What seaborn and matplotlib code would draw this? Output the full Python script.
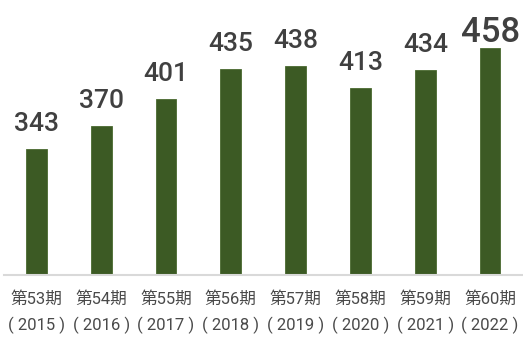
import matplotlib
matplotlib.use("Agg")
import matplotlib.pyplot as plt
import seaborn as sns
import pandas as pd

periods = ["第53期", "第54期", "第55期", "第56期", "第57期", "第58期", "第59期", "第60期"]
years = ["2015", "2016", "2017", "2018", "2019", "2020", "2021", "2022"]
values = [343, 370, 401, 435, 438, 413, 434, 458]

sns.set_theme(style="white")
plt.rcParams["font.family"] = ["Roboto", "Noto Sans CJK JP", "DejaVu Sans"]

labels = [f"{p}\n( {y} )" for p, y in zip(periods, years)]
df = pd.DataFrame({"label": labels, "value": values})

fig = plt.figure(figsize=(5.23, 3.37), dpi=100)
ax = fig.add_axes([4 / 523, (337 - 275) / 337, (522.5 - 4) / 523, 275 / 337])

sns.barplot(data=df, x="label", y="value", color="#3c5a24", width=0.32,
            saturation=1, ax=ax, edgecolor="#4a6a30", linewidth=0.6)

ax.set_xlim(-0.5, 7.5)
ax.set_ylim(200, 200 + 275 / 0.878)
ax.set_xlabel("")
ax.set_ylabel("")
ax.set_yticks([])
for s in ["top", "right", "left"]:
    ax.spines[s].set_visible(False)
ax.spines["bottom"].set_color("#d9d9d9")
ax.spines["bottom"].set_linewidth(1.5)
ax.tick_params(axis="x", length=0, pad=12, labelsize=12, labelcolor="#4a4a4a")
for t in ax.get_xticklabels():
    t.set_linespacing(1.7)

for i, v in enumerate(values):
    big = (v == max(values))
    ax.annotate(str(v), (i, v), xytext=(0, 6 if big else 18), textcoords="offset pixels",
                ha="center", va="baseline", fontsize=25 if big else 19,
                color="#404040", fontweight="medium", annotation_clip=False)

fig.savefig("out.png", dpi=100)
